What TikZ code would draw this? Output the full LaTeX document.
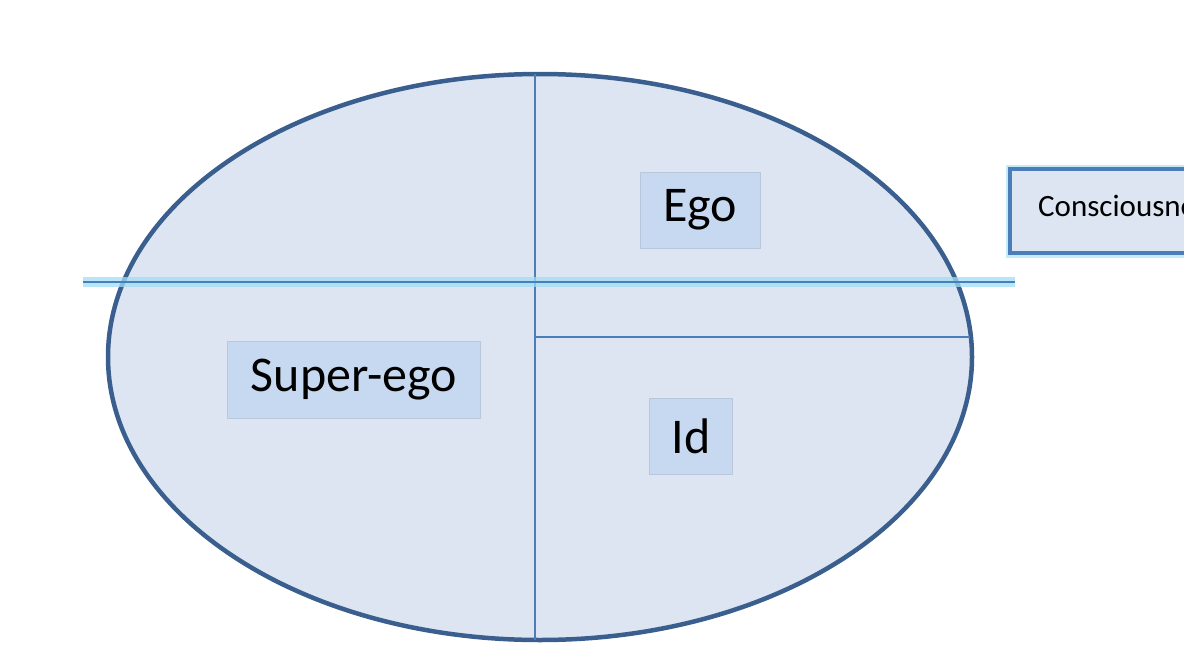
\documentclass[tikz,border=0pt]{standalone}
\usetikzlibrary{shapes.geometric}
\usepackage{fontspec}
\setmainfont{Carlito}
\definecolor{fillb}{HTML}{DCE5F1}
\definecolor{edge}{HTML}{3A5F8F}
\definecolor{lab}{HTML}{C7D9F1}
\definecolor{thinc}{HTML}{4A7EBB}
\definecolor{glow}{HTML}{9FDDF5}
\tikzset{lbl/.style={fill=lab,draw=lab!80!gray,line width=0.8pt,inner sep=0pt,font=\fontsize{50}{50}\selectfont}}
\begin{document}
\begin{tikzpicture}[x=1pt,y=-1pt]
\useasboundingbox (0,0) rectangle (1184,662);
\node[draw=edge,line width=4.5pt,fill=fillb,ellipse,minimum width=864pt,minimum height=566pt,inner sep=0pt] (ell) at (540,357) {};
\coordinate (vt) at (535,74);
\coordinate (vb) at (535,640);
\coordinate (hl) at (535,337);
\coordinate (hr) at (970,337);
\draw[thinc,line width=1.4pt] (vt) -- (vb);
\draw[thinc,line width=1.4pt] (hl) -- (hr);
\coordinate (gl) at (83,282);
\coordinate (gr) at (1015,282);
\draw[glow,line width=10pt,opacity=0.75] (gl) -- (gr);
\draw[thinc,line width=1.8pt] (gl) -- (gr);
\node[lbl,minimum width=120pt,minimum height=76pt] (ego) at (700,210) {\raisebox{-6pt}{Ego}};
\node[lbl,minimum width=253pt,minimum height=77pt] (se) at (354,380) {\raisebox{-4pt}{Super-ego}};
\node[lbl,minimum width=83pt,minimum height=76pt] (id) at (691,436) {Id};
\draw[glow,line width=9pt,opacity=0.6] (1010,169) rectangle (1200,253);
\draw[thinc,line width=4pt,fill=fillb] (1010,169) rectangle (1200,253);
\node[anchor=west,font=\fontsize{31}{31}\selectfont,inner sep=0pt] (con) at (1038,206) {Consciousness};
\end{tikzpicture}
\end{document}
